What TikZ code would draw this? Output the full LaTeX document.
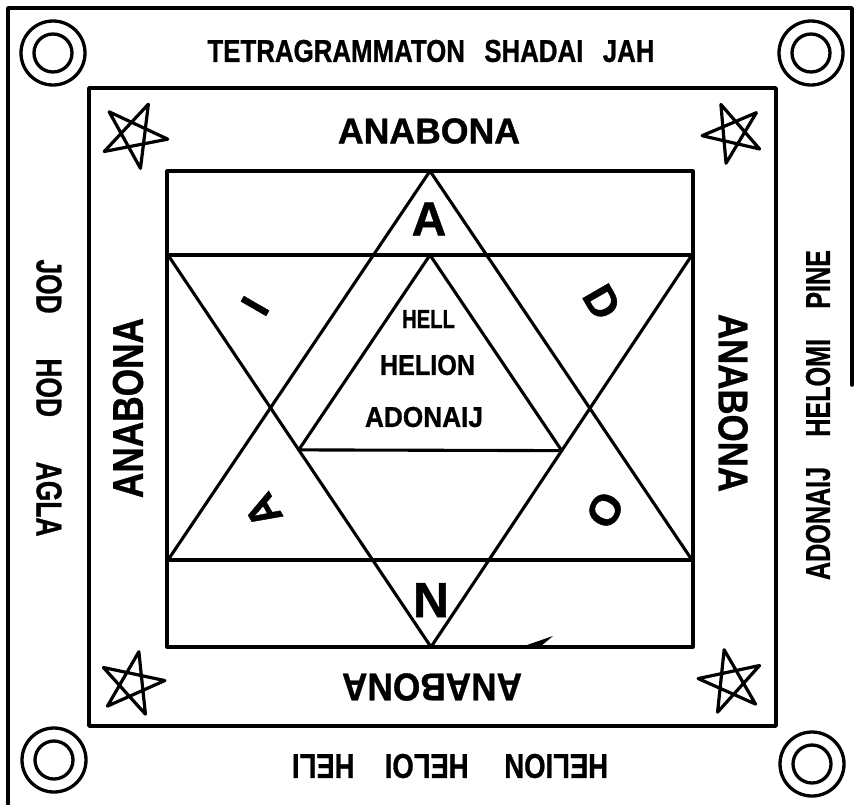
\documentclass[tikz,border=0pt]{standalone}
\usepackage{fontspec}
\usepackage{graphicx}
\usetikzlibrary{calc}
\setmainfont{Liberation Sans}[BoldFeatures={FakeBold=1}]
\newcommand{\fitt}[3]{\resizebox{#1pt}{#2pt}{\bfseries #3}}
\newcommand{\lett}[2]{\resizebox{!}{#1pt}{\bfseries #2}}
\newcommand{\pentagram}[4]{%
 \draw[starline] ({#1+#3*cos(90+#4)},{#2-#3*sin(90+#4)}) -- ({#1+#3*cos(234+#4)},{#2-#3*sin(234+#4)}) -- ({#1+#3*cos(18+#4)},{#2-#3*sin(18+#4)}) -- ({#1+#3*cos(162+#4)},{#2-#3*sin(162+#4)}) -- ({#1+#3*cos(306+#4)},{#2-#3*sin(306+#4)}) -- cycle;}
\tikzset{
  frame/.style={line width=3.6pt, line cap=round, line join=round},
  midframe/.style={line width=3.4pt, line cap=round, line join=round},
  linework/.style={line width=3.1pt, line cap=round, line join=round},
  starline/.style={line width=3.2pt, line join=round},
  ring/.style={line width=3.3pt},
  txt/.style={inner sep=0pt, outer sep=0pt},
}
\begin{document}
\begin{tikzpicture}[x=1pt, y=-1pt]
\useasboundingbox (0,0) rectangle (856,804);
\fill[white] (0,0) rectangle (856,804);
% outer border
\draw[frame] (852,385) -- (852,8) -- (8,8) -- (8,804);
% rings
\foreach \cx/\cy [count=\i] in {53/53, 811/53, 54/760, 812/764} {
  \draw[ring] (\cx,\cy) circle (32);
  \draw[ring] (\cx,\cy) circle (19);
}
% middle and inner rectangles
\draw[midframe] (89,88) rectangle (776,726);
\draw[linework] (167,171) rectangle (693,647);
% key points
\coordinate (ut) at (430,171);
\coordinate (ul) at (168,560);
\coordinate (ur) at (692,560);
\coordinate (dl) at (168,255);
\coordinate (dr) at (692,255);
\coordinate (db) at (431,647);
\coordinate (it) at (430,255);
\coordinate (itl) at ($(it)+(ul)-(ut)$);
\coordinate (itr) at ($(it)+(ur)-(ut)$);
\coordinate (il) at (intersection of it--itl and dl--db);
\coordinate (ir) at (intersection of it--itr and dr--db);
% horizontal bands
\draw[linework] (167,255) -- (693,255);
\draw[linework] (167,560) -- (693,560);
% triangles
\draw[linework] (ul) -- (ut) -- (ur);
\draw[linework] (dl) -- (db) -- (dr);
\draw[linework] (il) -- (it) -- (ir) -- cycle;
% small mark
\fill (527,645) -- (553,636) -- (541,646) -- cycle;
% pentagrams
\pentagram{134}{135}{34}{-25}
\pentagram{733}{133}{31}{23}
\pentagram{132}{684}{33}{-12}
\pentagram{731}{682}{33}{12}
% outer texts
\node[txt] (ttop) at (431,51) {\fitt{447}{22}{TETRAGRAMMATON\hspace{0.75em}SHADAI\hspace{0.75em}JAH}};
\node[txt, rotate=-90] (tleft) at (49,398) {\fitt{277}{25}{JOD\hspace{1.7em}HOD\hspace{1.7em}AGLA}};
\node[txt, rotate=90] (tright) at (818,415) {\fitt{330}{24}{ADONAIJ\hspace{1.2em}HELOMI\hspace{1.2em}PINE}};
\node[txt, rotate=180] (tbottom) at (450,766) {\fitt{316}{24}{HELION\hspace{1.3em}HELOI\hspace{1.1em}HELI}};
% ANABONA ring
\node[txt] (atop) at (429,131) {\fitt{182}{25}{ANABONA}};
\node[txt, rotate=90] (aleft) at (128,408) {\fitt{180}{30}{ANABONA}};
\node[txt, rotate=-90] (aright) at (733,403) {\fitt{178}{29}{ANABONA}};
\node[txt, rotate=180] (abottom) at (432,687) {\fitt{180}{27}{ANABONA}};
% inner triangle texts
\node[txt] (hell) at (428.5,319) {\fitt{53}{18}{HELL}};
\node[txt] (helion) at (427.5,365) {\fitt{95}{20}{HELION}};
\node[txt] (adonaij) at (424,417) {\fitt{118}{20}{ADONAIJ}};
% star letters
\node[txt] (lA1) at (429,219) {\lett{33}{A}};
\node[txt, rotate=-60] (lD) at (602,302) {\lett{30}{D}};
\node[txt, rotate=-120] (lO) at (605,510) {\lett{30}{O}};
\node[txt, rotate=180] (lN) at (431,600) {\lett{34}{N}};
\node[txt, rotate=120] (lA2) at (263,511) {\lett{30}{A}};
\node[txt, rotate=60] (lI) at (255,306) {\lett{29}{I}};
\end{tikzpicture}
\end{document}
